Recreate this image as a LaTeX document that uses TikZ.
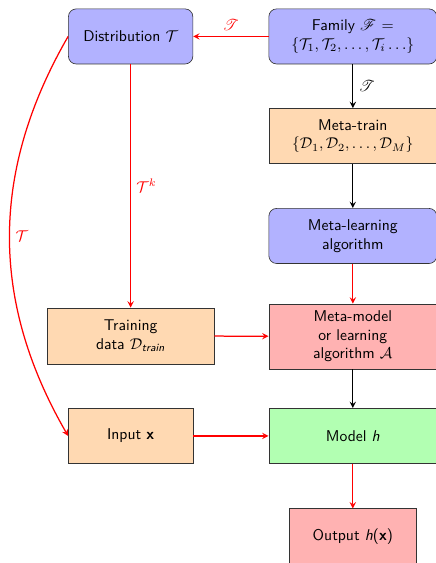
\documentclass[tikz,border=0pt]{standalone}
\usepackage{amsmath}
\usepackage{mathrsfs}
\usetikzlibrary{positioning}

\begin{document}
\begin{tikzpicture}[
        font=\sffamily,
        >=stealth,
        box/.style={draw=black!80, align=center, minimum width=2.8cm, minimum height=1.24cm},
        bluebox/.style={box, rounded corners=5pt, fill=blue!30},
        orangebox/.style={box, fill=orange!30},
        redbox/.style={box, fill=red!30},
        greenbox/.style={box, fill=green!30},
        wide/.style={minimum width=3.78cm},
        link/.style={->, thick}
    ]
            \def\lX{2.94}
            \def\rX{7.94}
            \useasboundingbox (0,0) rectangle (9.79,-12.67);

            % left column
            \node[bluebox] (dist) at (\lX,-0.82) {Distribution $\mathcal{T}$};
            \node[orangebox, minimum width=3.76cm, minimum height=1.26cm] (train) at (\lX,-7.56)
                {Training\\data $\mathcal{D}_{\textit{train}}$};
            \node[orangebox] (input) at (\lX,-9.81) {Input \textbf{x}};

            % right column
            \node[bluebox, wide] (family) at (\rX,-0.82)
                {Family $\mathscr{F}$ $=$\\ $\{\mathcal{T}_1, \mathcal{T}_2, \ldots, \mathcal{T}_i \ldots\}$};
            \node[orangebox, wide] (metatrain) at (\rX,-3.06)
                {Meta-train\\ $\{\mathcal{D}_1, \mathcal{D}_2, \ldots, \mathcal{D}_M\}$};
            \node[bluebox, wide] (metalearn) at (\rX,-5.31) {Meta-learning\\algorithm};
            \node[redbox, wide, minimum height=1.46cm] (metamodel) at (\rX,-7.57)
                {Meta-model\\or learning\\algorithm $\mathcal{A}$};
            \node[greenbox, wide] (model) at (\rX,-9.81) {Model \textit{h}};
            \node[redbox, minimum width=2.84cm] (output) at (\rX,-12.07) {Output \textit{h}(\textbf{x})};

            % connections
            \draw[link, red] (family) -- node[above] {$\mathscr{T}$} (dist);
            \draw[link] (family) -- node[right] {$\mathscr{T}$} (metatrain);
            \draw[link] (metatrain) -- (metalearn);
            \draw[link, red] (metalearn) -- (metamodel);
            \draw[link, red] (dist) -- node[right] {$\mathcal{T}^k$} (train);
            \draw[link, red] (dist.west) to[bend right=30] node[right] {$\mathcal{T}$} (input.west);
            \draw[link, red] (train) -- (metamodel);
            \draw[link] (metamodel) -- (model);
            \draw[link, red] (input) -- (model);
            \draw[link, red] (model) -- (output);
        \end{tikzpicture}
\end{document}
